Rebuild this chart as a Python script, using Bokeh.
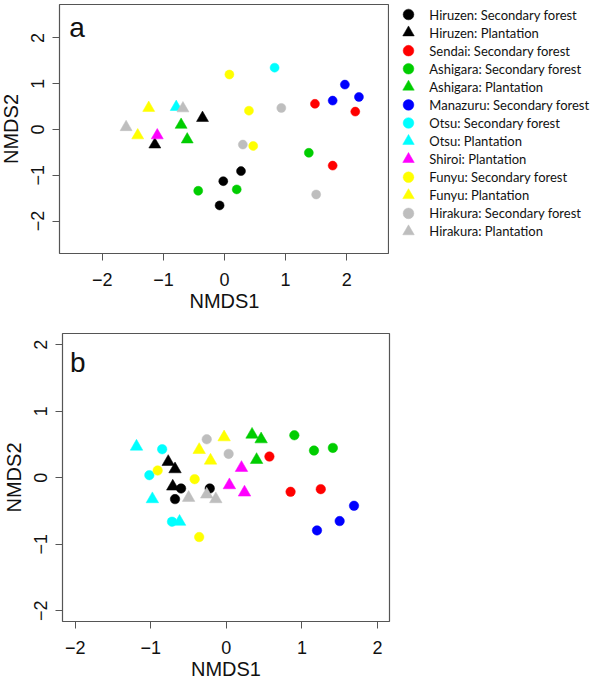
from bokeh.plotting import figure
from bokeh.models import ColumnDataSource, FixedTicker, Label, Range1d
from bokeh.core.properties import value
from bokeh.layouts import column, row
from bokeh.embed import file_html
from bokeh.resources import INLINE

groups = ["Hiruzen: Secondary forest", "Hiruzen: Plantation", "Sendai: Secondary forest",
          "Ashigara: Secondary forest", "Ashigara: Plantation", "Manazuru: Secondary forest",
          "Otsu: Secondary forest", "Otsu: Plantation", "Shiroi: Plantation",
          "Funyu: Secondary forest", "Funyu: Plantation", "Hirakura: Secondary forest",
          "Hirakura: Plantation"]
group_colors = ["#000000", "#000000", "#FF0000", "#00CD00", "#00CD00", "#0000FF",
                "#00FFFF", "#00FFFF", "#FF00FF", "#FFFF00", "#FFFF00", "#BEBEBE", "#BEBEBE"]
group_markers = ["circle", "triangle", "circle", "circle", "triangle", "circle",
                 "circle", "triangle", "triangle", "circle", "triangle", "circle", "triangle"]

# Panel a
a_group = [0, 0, 0, 1, 1, 2, 2, 2, 3, 3, 3, 4, 4, 5, 5, 5, 6, 7, 8, 9, 9, 9, 10, 10, 11, 11, 11, 12, 12]
a_x = [0.27, -0.02, -0.08, -0.36, -1.14, 1.48, 2.14, 1.77, 1.38, -0.43, 0.20, -0.71, -0.61,
       1.97, 1.77, 2.20, 0.82, -0.79, -1.10, 0.08, 0.40, 0.47, -1.24, -1.42, 0.93, 0.30, 1.50,
       -0.68, -1.61]
a_y = [-0.91, -1.13, -1.66, 0.25, -0.33, 0.56, 0.39, -0.79, -0.51, -1.34, -1.31, 0.10, -0.22,
       0.98, 0.63, 0.71, 1.35, 0.49, -0.13, 1.20, 0.41, -0.36, 0.47, -0.13, 0.47, -0.33, -1.42,
       0.46, 0.05]

# Panel b
b_group = [0, 0, 0, 1, 1, 1, 2, 2, 2, 3, 3, 3, 4, 4, 4, 5, 5, 5, 6, 6, 6, 7, 7, 7, 8, 8, 8,
           9, 9, 9, 10, 10, 10, 11, 11, 12, 12, 12]
b_x = [-0.60, -0.68, -0.22, -0.77, -0.68, -0.71, 0.57, 0.85, 1.25, 0.90, 1.16, 1.41,
       0.34, 0.46, 0.40, 1.69, 1.50, 1.20, -0.85, -1.02, -0.72, -1.19, -0.98, -0.62,
       0.20, 0.04, 0.24, -0.91, -0.36, -0.42, -0.36, -0.03, -0.21, -0.26, 0.03,
       -0.50, -0.26, -0.14]
b_y = [-0.16, -0.32, -0.16, 0.24, 0.13, -0.13, 0.32, -0.21, -0.17, 0.64, 0.41, 0.45,
       0.65, 0.58, 0.27, -0.42, -0.65, -0.79, 0.43, 0.04, -0.66, 0.47, -0.32, -0.66,
       0.15, -0.11, -0.22, 0.11, -0.89, -0.02, 0.42, 0.61, 0.26, 0.58, 0.36,
       -0.30, -0.25, -0.32]

axis_ticks = [-2, -1, 0, 1, 2]
x_title = "NMDS1"
y_title = "NMDS2"

FRAME = "#555555"
TICK_FONT = "Liberation Sans"


def make_panel(xs, ys, gs, xlim, ylim, fw, fh, mb, csize, tsize, letter, lx, ly):
    p = figure(frame_width=fw, frame_height=fh, x_range=Range1d(*xlim), y_range=Range1d(*ylim),
               output_backend="svg", toolbar_location=None,
               min_border_left=mb[0], min_border_right=mb[1], min_border_top=mb[2],
               min_border_bottom=mb[3])
    p.grid.visible = False
    p.outline_line_color = FRAME
    p.outline_line_width = 1.2
    p.background_fill_color = "white"
    p.border_fill_color = "white"
    for ax in (p.xaxis[0], p.yaxis[0]):
        ax.ticker = FixedTicker(ticks=axis_ticks)
        ax.axis_line_color = None
        ax.major_tick_line_color = FRAME
        ax.major_tick_out = 7
        ax.major_tick_in = 0
        ax.minor_tick_line_color = None
        ax.major_label_text_font = TICK_FONT
        ax.major_label_text_font_size = "18px"
        ax.major_label_text_color = "#111111"
        ax.axis_label_text_font = TICK_FONT
        ax.axis_label_text_font_size = "20px"
        ax.axis_label_text_font_style = "normal"
        ax.axis_label_text_color = "#111111"
    p.xaxis.axis_label = x_title
    p.yaxis.axis_label = y_title
    p.xaxis.major_label_standoff = 12
    p.xaxis.axis_label_standoff = 1
    p.yaxis.major_label_standoff = 8
    p.yaxis.axis_label_standoff = 7
    p.yaxis.major_label_orientation = "vertical"

    for gi in range(len(groups)):
        idx = [k for k, g in enumerate(gs) if g == gi]
        if not idx:
            continue
        src = ColumnDataSource(dict(x=[xs[k] for k in idx], y=[ys[k] for k in idx]))
        m = group_markers[gi]
        p.scatter("x", "y", source=src, marker=m,
                  size=csize if m == "circle" else tsize,
                  fill_color=group_colors[gi], line_color=group_colors[gi], line_width=0.5)
    p.add_layout(Label(x=lx, y=ly, text=letter, text_font=TICK_FONT, text_font_size="28px",
                       text_align="left", text_baseline="alphabetic", text_color="#111111"))
    return p


pa = make_panel(a_x, a_y, a_group, (-2.70, 2.70), (-2.71, 2.73), 330, 249,
                (63, 0, 8, 67), 9, 12, "a", -2.54, 2.22)
pb = make_panel(b_x, b_y, b_group, (-2.17, 2.16), (-2.16, 2.17), 327, 288,
                (66, 10, 13, 64), 9.5, 12.5, "b", -2.07, 1.74)

# Key (legend) panel: one row per group, row index mapped by the y scale
KEY_H = 324
ROW_PX = 18.08
FIRST_ROW_PX = 10
pleg = figure(frame_width=207, frame_height=KEY_H, x_range=Range1d(0, 207),
              y_range=Range1d((KEY_H - FIRST_ROW_PX) / ROW_PX, -FIRST_ROW_PX / ROW_PX),
              output_backend="svg", toolbar_location=None, min_border=0)
pleg.axis.visible = False
pleg.grid.visible = False
pleg.outline_line_color = None
key_rows = list(range(len(groups)))
key_sizes = [10.7 if m == "circle" else 11.5 for m in group_markers]
key_src = ColumnDataSource(dict(row=key_rows, label=groups, color=group_colors,
                                marker=group_markers, size=key_sizes,
                                mx=[19.0] * len(groups), tx=[39.8] * len(groups)))
pleg.scatter("mx", "row", source=key_src, marker="marker", size="size",
             fill_color="color", line_color="color", line_width=0.5)
pleg.text("tx", "row", text="label", source=key_src, text_font=value("Lato"),
          text_font_size="13px", text_baseline="middle", text_align="left",
          text_color="#111111")

layout = column(row(pa, pleg, spacing=0), pb, spacing=0,
                styles={"margin-top": "-4px", "margin-left": "-4px", "margin-bottom": "-10px"})

with open("out.html", "w") as f:
    f.write(file_html(layout, INLINE))
